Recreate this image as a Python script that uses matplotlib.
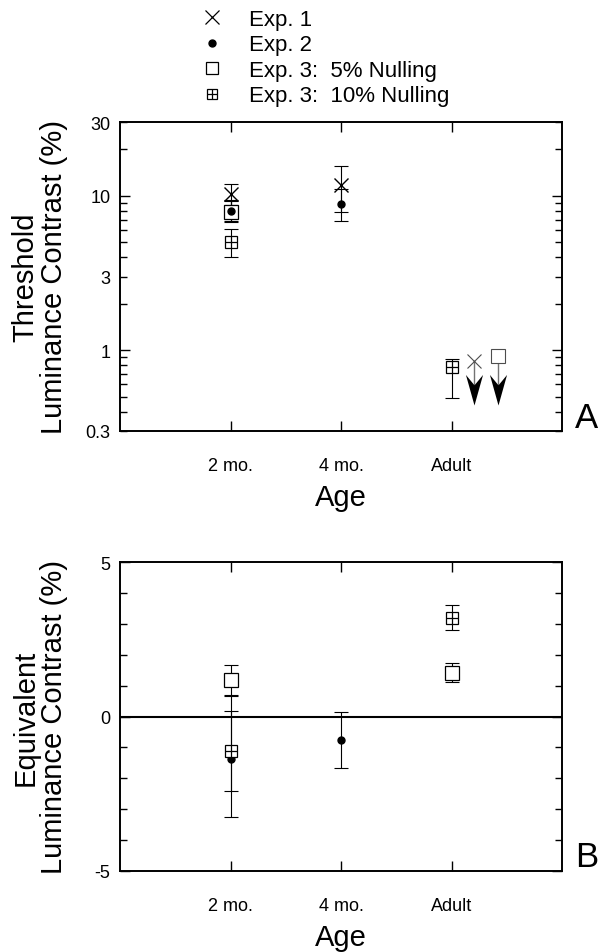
import matplotlib
matplotlib.use("Agg")
import matplotlib.pyplot as plt
import numpy as np
from matplotlib.lines import Line2D
from matplotlib.path import Path
from matplotlib.legend_handler import HandlerTuple
from matplotlib.ticker import FixedLocator, FuncFormatter

plt.rcParams['font.family'] = ['Liberation Sans', 'DejaVu Sans']
plt.rcParams['axes.unicode_minus'] = False

# ---------------- data ----------------
age_labels = ["2 mo.", "4 mo.", "Adult"]
age_pos = [1, 2, 3]

# Panel A: threshold luminance contrast (%)
a_exp1_x = [1, 2]
a_exp1_y = [10.2, 11.7]
a_exp1_lo = [8.7, 7.9]
a_exp1_hi = [11.9, 15.6]

a_exp2_x = [1, 2]
a_exp2_y = [8.0, 8.8]
a_exp2_lo = [6.9, 6.9]
a_exp2_hi = [9.4, 11.0]

a_exp3_5_x = [1]
a_exp3_5_y = [7.9]
a_exp3_5_lo = [6.8]
a_exp3_5_hi = [9.2]

a_exp3_10_x = [1, 3]
a_exp3_10_y = [5.0, 0.78]
a_exp3_10_lo = [4.0, 0.49]
a_exp3_10_hi = [6.1, 0.875]

# Adult upper limits (arrows)
a_lim_exp1_x = [3.2]
a_lim_exp1_y = [0.85]
a_lim_exp3_5_x = [3.42]
a_lim_exp3_5_y = [0.92]
a_lim_tip = [0.44]

# Panel B: equivalent luminance contrast (%)
b_exp2_x = [1, 2]
b_exp2_y = [-1.36, -0.75]
b_exp2_lo = [-3.25, -1.67]
b_exp2_hi = [0.65, 0.14]

b_exp3_5_x = [1, 3]
b_exp3_5_y = [1.18, 1.42]
b_exp3_5_lo = [0.70, 1.13]
b_exp3_5_hi = [1.66, 1.72]

b_exp3_10_x = [1, 3]
b_exp3_10_y = [-1.13, 3.2]
b_exp3_10_lo = [-2.42, 2.8]
b_exp3_10_hi = [0.17, 3.61]

legend_labels = ["Exp. 1", "Exp. 2", "Exp. 3:  5% Nulling", "Exp. 3:  10% Nulling"]

# ---------------- figure ----------------
W, H = 604, 953
fig = plt.figure(figsize=(W / 100, H / 100), dpi=100)

def axrect(l, t, r, b):
    return [l / W, 1 - b / H, (r - l) / W, (b - t) / H]

axA = fig.add_axes(axrect(120, 123, 562, 432))
axB = fig.add_axes(axrect(120, 563, 562, 872))

ebkw = dict(fmt='none', ecolor='black', elinewidth=0.8, capsize=5, capthick=0.8, zorder=2)

def yerr(y, lo, hi):
    y = np.array(y); lo = np.array(lo); hi = np.array(hi)
    return np.vstack([y - lo, hi - y])

def draw_series(ax, x, y, lo, hi, kind, z):
    ax.errorbar(x, y, yerr=yerr(y, lo, hi), **ebkw)
    if kind == 'exp1':
        ax.plot(x, y, 'x', ms=10, mew=1.0, color='black', zorder=z)
    elif kind == 'exp2':
        ax.plot(x, y, 'o', ms=5, color='black', zorder=z)
    elif kind == 'exp3_5':
        ax.plot(x, y, 's', ms=10, mfc='white', mec='black', mew=0.9, zorder=z)
    elif kind == 'exp3_10':
        ax.plot(x, y, 's', ms=8, mfc='white', mec='black', mew=0.9, zorder=z)
        ax.plot(x, y, '+', ms=8, mew=0.9, color='black', zorder=z + 0.1)

# ---- Panel A ----
axA.set_yscale('log')
draw_series(axA, a_exp1_x, a_exp1_y, a_exp1_lo, a_exp1_hi, 'exp1', 3)
draw_series(axA, a_exp3_5_x, a_exp3_5_y, a_exp3_5_lo, a_exp3_5_hi, 'exp3_5', 4)
draw_series(axA, a_exp2_x, a_exp2_y, a_exp2_lo, a_exp2_hi, 'exp2', 5)
draw_series(axA, a_exp3_10_x, a_exp3_10_y, a_exp3_10_lo, a_exp3_10_hi, 'exp3_10', 6)

# upper-limit arrows
arrow_path = Path([(0, 0), (-0.28, 1.0), (0, 0.66), (0.28, 1.0), (0, 0)],
                  [Path.MOVETO, Path.LINETO, Path.LINETO, Path.LINETO, Path.CLOSEPOLY])
for xs, ys in [(a_lim_exp1_x, a_lim_exp1_y), (a_lim_exp3_5_x, a_lim_exp3_5_y)]:
    for xv, yv, tip in zip(xs, ys, a_lim_tip):
        axA.plot([xv, xv], [yv, tip * 1.2], color='0.45', lw=1.0, zorder=2)
        axA.plot([xv], [tip], marker=arrow_path, ms=44, color='black', mew=0, zorder=3)
axA.plot(a_lim_exp1_x, a_lim_exp1_y, 'x', ms=10, mew=0.8, color='0.3', zorder=4)
axA.plot(a_lim_exp3_5_x, a_lim_exp3_5_y, 's', ms=10, mfc='white', mec='0.3', mew=0.8, zorder=4)

axA.set_ylim(0.3, 30)
axA.set_xlim(0, 4)
major_A = [1, 10]
minor_A = [0.3, 0.4, 0.5, 0.6, 0.7, 0.8, 0.9, 2, 3, 4, 5, 6, 7, 8, 9, 20, 30]
axA.yaxis.set_major_locator(FixedLocator(major_A))
axA.yaxis.set_minor_locator(FixedLocator(minor_A))
axA.yaxis.set_major_formatter(FuncFormatter(lambda v, p: "%g" % v))
axA.yaxis.set_minor_formatter(FuncFormatter(lambda v, p: ("%g" % v) if v in (0.3, 3, 30) else ""))

# ---- Panel B ----
axB.axhline(0, color='black', lw=1.5, zorder=1)
draw_series(axB, b_exp3_5_x, b_exp3_5_y, b_exp3_5_lo, b_exp3_5_hi, 'exp3_5', 4)
draw_series(axB, b_exp2_x, b_exp2_y, b_exp2_lo, b_exp2_hi, 'exp2', 5)
draw_series(axB, b_exp3_10_x, b_exp3_10_y, b_exp3_10_lo, b_exp3_10_hi, 'exp3_10', 6)
axB.set_ylim(-5, 5)
axB.set_xlim(0, 4)
axB.set_yticks([-5, 0, 5])
axB.set_yticks(np.arange(-5, 6, 1), minor=True)

for ax in (axA, axB):
    ax.set_xticks(age_pos)
    ax.set_xticklabels(age_labels)
    ax.tick_params(which='both', direction='in', top=True, right=True, width=1.0, color='black')
    ax.tick_params(which='major', length=7)
    ax.tick_params(which='minor', length=5)
    ax.tick_params(axis='y', which='both', labelsize=13, pad=7)
    ax.tick_params(axis='x', which='both', labelsize=13, pad=19)
    for s in ax.spines.values():
        s.set_linewidth(1.4)
    ax.set_xlabel("Age", fontsize=21, labelpad=6)

axA.set_ylabel("Threshold\nLuminance Contrast (%)", fontsize=21, linespacing=1.0)
axB.set_ylabel("Equivalent\nLuminance Contrast (%)", fontsize=21, linespacing=1.0)
axA.yaxis.set_label_coords(-0.118, 0.5)
axB.yaxis.set_label_coords(-0.118, 0.5)

axA.text(1.03, 0.012, "A", transform=axA.transAxes, fontsize=25, ha='left', va='baseline')
axB.text(1.03, 0.016, "B", transform=axB.transAxes, fontsize=25, ha='left', va='baseline')

# ---- legend ----
h1 = Line2D([], [], ls='none', marker='x', ms=10, mew=0.9, color='black')
h2 = Line2D([], [], ls='none', marker='o', ms=5, color='black')
h3 = Line2D([], [], ls='none', marker='s', ms=9, mfc='white', mec='black', mew=0.9)
h4a = Line2D([], [], ls='none', marker='s', ms=7, mfc='white', mec='black', mew=0.9)
h4b = Line2D([], [], ls='none', marker='+', ms=7, mew=0.9, color='black')
fig.legend([h1, h2, h3, (h4a, h4b)], legend_labels,
           handler_map={tuple: HandlerTuple(ndivide=1, pad=0)},
           loc='upper left', bbox_to_anchor=(200.6 / W, 1 - 10 / H),
           frameon=False, fontsize=16, handlelength=1.0, handletextpad=1.2,
           labelspacing=0.2, borderaxespad=0, borderpad=0)

fig.savefig("out.png", dpi=100)
